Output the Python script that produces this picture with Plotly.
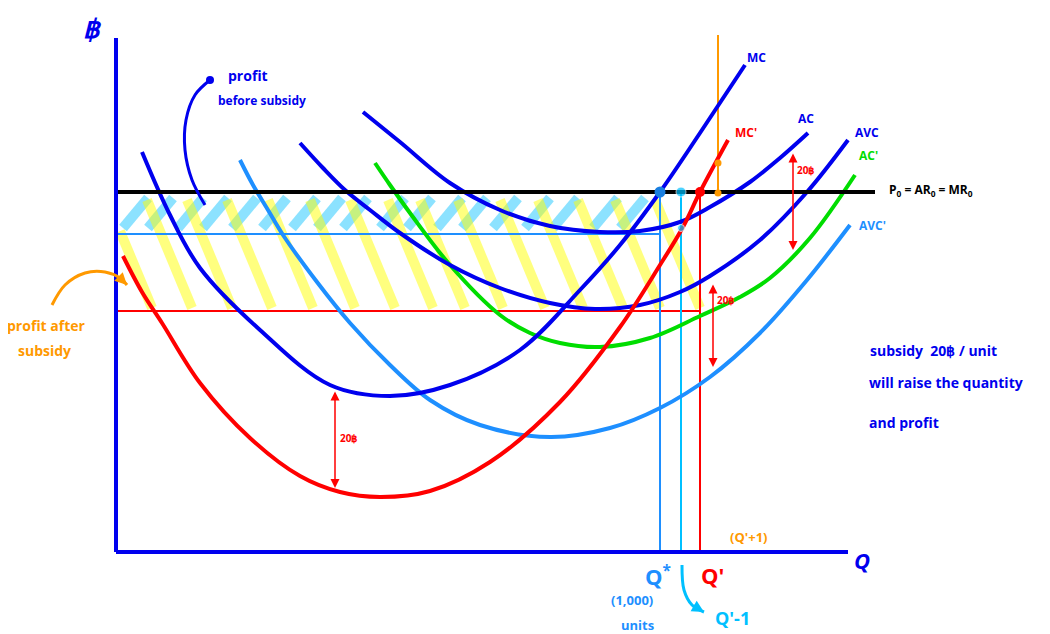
import plotly.graph_objects as go

# ---------------- data (Q units to the right of the origin, price units above it) ----------------
mc_q = [26, 54, 84, 144, 214, 274, 334, 404, 464, 504, 544, 584, 629]
mc_p = [400, 337, 284, 222, 167, 156, 167, 202, 262, 307, 360, 419, 487]

mc2_q = [7, 26, 46, 84, 134, 184, 224, 264, 314, 374, 444, 504, 544, 567, 584, 612]
mc2_p = [296, 260, 229, 169, 114, 76, 60, 55, 61, 90, 150, 225, 287, 325, 360, 412]

ac_q = [247, 284, 334, 384, 434, 484, 524, 564, 594, 634, 664, 692]
ac_p = [440, 410, 369, 342, 326, 320, 321, 330, 345, 370, 394, 419]

avc_q = [184, 207, 229, 254, 284, 334, 384, 434, 479, 524, 564, 594, 644, 691, 732]
avc_p = [409, 384, 362, 342, 319, 287, 264, 249, 243, 247, 260, 276, 312, 360, 412]

ac2_q = [259, 274, 294, 334, 384, 414, 444, 484, 534, 584, 624, 654, 694, 739]
ac2_p = [389, 367, 339, 287, 237, 219, 209, 205, 214, 236, 255, 274, 314, 377]

avc2_q = [124, 137, 152, 167, 201, 234, 274, 314, 364, 434, 494, 544, 594, 644, 691, 734]
avc2_p = [392, 367, 342, 317, 270, 229, 187, 152, 127, 115, 124, 144, 175, 219, 272, 327]

price0 = 360          # P0 = AR0 = MR0
ac_min_level = 318    # light-blue line
avc_min_level = 241   # red line
q_star = 544
q_prime_minus = 565
q_prime = 584
q_prime_plus = 602
q_prime_minus_p = 324
q_prime_plus_p = 389

subsidy_arrows = [  # (q, p_from, p_to, label q, label p)
    (677, 400, 302, 689, 382),
    (597, 269, 185, 609, 252),
    (219, 162, 64, 232, 114),
]

yellow_tops = [-9, 31, 71, 111, 152, 194, 234, 272, 304, 342, 384, 422, 462, 499, 539]
cyan_bottoms = [7, 32, 62, 87, 116, 146, 176, 201, 227, 264, 291, 321, 346, 377, 409, 437, 477, 504]

before_arrow_q = [94, 79, 70, 69, 76, 89]
before_arrow_p = [472, 457, 432, 402, 372, 347]
after_arrow_q = [-64, -51, -31, -11, 4, 11]
after_arrow_p = [247, 267, 279, 280, 274, 267]
qm1_arrow_q = [566, 568, 576, 588]
qm1_arrow_p = [-13, -38, -53, -60]

BLUE = '#0000ee'
RED = '#ff0000'
GREEN = '#00dd00'
DBLUE = '#1e8fff'
SKY = '#00c0ff'
ORANGE = '#ff9900'
FONT = 'Open Sans'

fig = go.Figure()


def seg_trace(xs, ys, color, width, opacity=1.0):
    fig.add_trace(go.Scatter(x=xs, y=ys, mode='lines', opacity=opacity,
                             line=dict(color=color, width=width),
                             hoverinfo='skip', showlegend=False))


def clip_seg(x0, y0, x1, y1, xmin, xmax):
    # clip a segment to xmin <= x <= xmax
    if x0 > x1:
        x0, y0, x1, y1 = x1, y1, x0, y0
    if x1 < xmin or x0 > xmax:
        return None
    def at(x):
        return y0 + (y1 - y0) * (x - x0) / (x1 - x0)
    nx0, nx1 = max(x0, xmin), min(x1, xmax)
    return nx0, at(nx0), nx1, at(nx1)


# ---------------- hatching ----------------
cx, cy = [], []
for b in cyan_bottoms:
    s = clip_seg(b, 324, b + 25, 354, 4, q_star)
    if s:
        cx += [s[0], s[2], None]
        cy += [s[1], s[3], None]
seg_trace(cx, cy, 'rgba(0,190,255,0.45)', 10)

yx, yy = [], []
for t in yellow_tops:
    s = clip_seg(t, 352, t + 45, 244, 4, q_prime)
    if s:
        yx += [s[0], s[2], None]
        yy += [s[1], s[3], None]
seg_trace(yx, yy, 'rgba(255,255,0,0.5)', 10)

# ---------------- thin guide lines ----------------
seg_trace([2, q_star], [ac_min_level, ac_min_level], DBLUE, 2)
seg_trace([2, q_prime], [avc_min_level, avc_min_level], RED, 2)
seg_trace([q_star, q_star], [0, price0], DBLUE, 2)
seg_trace([q_prime_minus, q_prime_minus], [0, price0], SKY, 2)
seg_trace([q_prime, q_prime], [0, price0], RED, 2)
seg_trace([q_prime_plus, q_prime_plus], [price0, 517], ORANGE, 2)

# ---------------- curves ----------------
def curve(q, p, color):
    fig.add_trace(go.Scatter(x=q, y=p, mode='lines',
                             line=dict(color=color, width=4, shape='spline', smoothing=1.0),
                             hoverinfo='skip', showlegend=False))

curve(avc2_q, avc2_p, DBLUE)
curve(ac2_q, ac2_p, GREEN)
curve(avc_q, avc_p, BLUE)
curve(ac_q, ac_p, BLUE)
curve(mc_q, mc_p, BLUE)
curve(mc2_q, mc2_p, RED)

# price line
seg_trace([2, 759], [price0, price0], '#000000', 4)

# axes
seg_trace([0, 0], [0, 514], BLUE, 4)
seg_trace([0, 732], [0, 0], BLUE, 4)

# hand arrows
fig.add_trace(go.Scatter(x=before_arrow_q, y=before_arrow_p, mode='lines',
                         line=dict(color=BLUE, width=3, shape='spline'), hoverinfo='skip', showlegend=False))
fig.add_trace(go.Scatter(x=[before_arrow_q[0]], y=[before_arrow_p[0]], mode='markers',
                         marker=dict(color=BLUE, size=8), hoverinfo='skip', showlegend=False))
fig.add_trace(go.Scatter(x=after_arrow_q, y=after_arrow_p, mode='lines',
                         line=dict(color=ORANGE, width=3, shape='spline'), hoverinfo='skip', showlegend=False))
fig.add_trace(go.Scatter(x=qm1_arrow_q, y=qm1_arrow_p, mode='lines',
                         line=dict(color=SKY, width=3, shape='spline'), hoverinfo='skip', showlegend=False))

# dots
fig.add_trace(go.Scatter(x=[q_star], y=[price0], mode='markers', marker=dict(color='#1a7fe0', size=11),
                         hoverinfo='skip', showlegend=False))
fig.add_trace(go.Scatter(x=[q_prime_minus, q_prime_minus], y=[price0, q_prime_minus_p], mode='markers',
                         marker=dict(color=SKY, size=[10, 7]), hoverinfo='skip', showlegend=False))
fig.add_trace(go.Scatter(x=[q_prime], y=[price0], mode='markers', marker=dict(color=RED, size=10),
                         hoverinfo='skip', showlegend=False))
fig.add_trace(go.Scatter(x=[q_prime_plus, q_prime_plus], y=[q_prime_plus_p, price0 - 1], mode='markers',
                         marker=dict(color=ORANGE, size=7), hoverinfo='skip', showlegend=False))

ann = []
# double arrows for subsidy
for q, p0, p1, lq, lp in subsidy_arrows:
    ann.append(dict(x=q, y=p1, ax=q, ay=p0, xref='x', yref='y', axref='x', ayref='y',
                    showarrow=True, arrowhead=2, arrowside='end+start', arrowwidth=1.5,
                    arrowsize=1.2, arrowcolor=RED, text=''))
    ann.append(dict(x=lq, y=lp, text='<b>20฿</b>', showarrow=False,
                    font=dict(color=RED, size=10, family=FONT)))

# arrowheads at ends of hand arrows
ann.append(dict(x=after_arrow_q[-1], y=after_arrow_p[-1], ax=after_arrow_q[-2], ay=after_arrow_p[-2],
                xref='x', yref='y', axref='x', ayref='y', showarrow=True, arrowhead=2,
                arrowwidth=3, arrowsize=0.8, arrowcolor=ORANGE, text=''))
ann.append(dict(x=qm1_arrow_q[-1], y=qm1_arrow_p[-1], ax=qm1_arrow_q[-2], ay=qm1_arrow_p[-2],
                xref='x', yref='y', axref='x', ayref='y', showarrow=True, arrowhead=2,
                arrowwidth=3, arrowsize=0.8, arrowcolor=SKY, text=''))


def txt(x, y, s, color, size, anchor='center'):
    ann.append(dict(x=x, y=y, text=s, showarrow=False, xanchor=anchor,
                    font=dict(color=color, size=size, family=FONT)))


txt(-24, 524, '<b><i>฿</i></b>', BLUE, 26)
txt(132, 477, '<b>profit</b>', BLUE, 14)
txt(146, 452, '<b>before subsidy</b>', BLUE, 12)
txt(-70, 227, '<b>profit after</b>', ORANGE, 14)
txt(-72, 202, '<b>subsidy</b>', ORANGE, 14)
txt(640, 495, '<b>MC</b>', BLUE, 12)
txt(630, 420, "<b>MC'</b>", RED, 12)
txt(690, 434, '<b>AC</b>', BLUE, 12)
txt(751, 420, '<b>AVC</b>', BLUE, 12)
txt(752, 397, "<b>AC'</b>", GREEN, 12)
txt(756, 327, "<b>AVC'</b>", DBLUE, 12)
txt(771, 362, '<b>P<sub>0</sub> = AR<sub>0</sub> = MR<sub>0</sub></b>', '#000000', 12, 'left')
txt(752, 202, '<b>subsidy  20฿ / unit</b>', BLUE, 14, 'left')
txt(751, 170, '<b>will raise the quantity</b>', BLUE, 14, 'left')
txt(751, 130, '<b>and profit</b>', BLUE, 14, 'left')
txt(746, -8, '<b><i>Q</i></b>', BLUE, 22)
txt(542, -23, '<b>Q<sup>*</sup></b>', DBLUE, 22)
txt(596, -23, "<b>Q'</b>", RED, 22)
txt(516, -48, '<b>(1,000)</b>', DBLUE, 13)
txt(521, -73, '<b>units</b>', DBLUE, 13)
txt(616, -66, "<b>Q'-1</b>", SKY, 18)
txt(632, 15, "<b>(Q'+1)</b>", ORANGE, 13)

# page body has an 8px margin, so the figure is 8px smaller each way and ranges are shifted to match
fig.update_layout(
    width=1042, height=626,
    margin=dict(l=0, r=0, t=0, b=0),
    paper_bgcolor='white', plot_bgcolor='white',
    xaxis=dict(range=[-108, 934], visible=False, fixedrange=True),
    yaxis=dict(range=[-82, 544], visible=False, fixedrange=True),
    annotations=ann,
    showlegend=False,
)

fig.write_html('out.html')
